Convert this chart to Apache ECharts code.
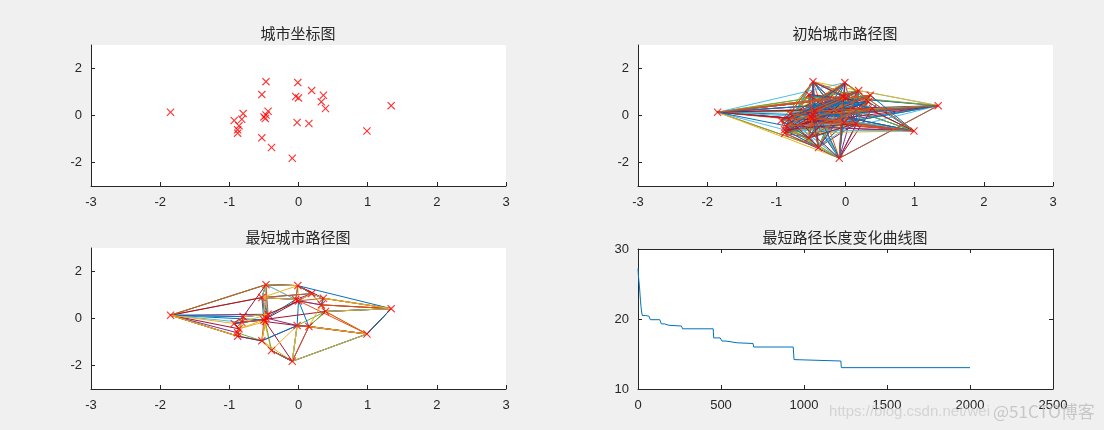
<!DOCTYPE html>
<html>
<head>
<meta charset="utf-8">
<script src="https://cdn.jsdelivr.net/npm/echarts@6/dist/echarts.min.js"></script>
<style>
html,body{margin:0;padding:0;background:#f0f0f0;}
#main{width:1104px;height:430px;}
</style>
</head>
<body>
<div id="main"></div>
<script>
// city coordinates
var cityX = [-1.85,-0.47,-0.01,-0.53,0.19,0.36,-0.04,0.00,0.33,0.39,1.34,0.99,0.15,-0.02,-0.09,-0.39,-0.53,-0.44,-0.47,-0.50,-0.48,-0.80,-0.82,-0.93,-0.86,-0.88,-0.88];
var cityY = [0.14,1.44,1.40,0.89,1.06,0.86,0.81,0.75,0.58,0.30,0.42,-0.66,-0.34,-0.30,-1.82,-1.36,-0.95,0.18,0.02,-0.06,-0.13,0.08,-0.16,-0.21,-0.44,-0.61,-0.75];

// initial population routes
var initRoutes = [
  [5,17,0,12,3,22,10,14,7,25,1,19,11,8,24,2,15,20,9,26,6,13,21,4,16,23,18],
  [10,3,26,8,0,15,4,21,13,1,24,9,18,6,11,23,2,16,7,20,14,5,25,12,19,22,17],
  [14,2,20,10,23,6,0,9,16,4,19,11,25,7,13,21,1,12,26,5,18,15,8,22,3,17,24],
  [1,11,22,4,14,18,10,25,2,12,0,8,20,5,26,16,9,3,13,24,7,15,21,6,17,23,19],
  [8,23,1,13,10,21,6,15,0,4,26,12,3,19,9,24,14,17,11,2,22,5,20,16,7,25,18],
  [20,4,10,16,1,9,25,0,6,11,3,14,22,7,18,2,13,26,5,23,12,17,8,24,15,21,19],
  [13,0,5,24,11,17,2,23,9,14,6,21,10,19,4,26,1,15,12,22,8,16,25,3,20,7,18],
  [26,10,7,0,18,12,1,25,4,15,8,21,11,3,16,9,22,2,14,19,5,24,13,6,23,17,20],
  [3,12,24,5,0,11,19,2,26,8,14,1,21,9,17,10,22,13,4,25,16,6,20,15,7,23,18],
  [9,21,2,17,14,0,7,11,26,4,22,13,10,1,16,5,23,8,19,12,25,3,15,6,24,20,18],
  [16,7,0,10,20,1,12,23,5,14,26,2,18,11,24,6,9,21,4,15,3,13,25,8,22,19,17],
  [22,9,1,26,13,4,0,17,10,6,15,24,3,11,19,8,2,25,14,7,21,5,12,16,18,23,20],
  [11,25,4,19,0,2,16,8,23,10,13,6,26,17,3,9,15,21,7,1,24,12,20,5,22,14,18],
  [6,19,10,24,2,14,21,9,0,13,5,26,18,1,11,20,4,23,7,16,12,25,8,3,15,22,17],
  [2,24,0,8,19,10,13,1,17,11,5,22,26,9,3,14,7,18,21,12,4,20,15,25,6,23,16],
  [25,5,0,6,14,10,18,3,12,21,1,8,16,20,11,2,22,4,13,24,7,17,9,26,15,19,23]
];

// final population routes
var bestRoutes = [
  [0,1,2,10,11,14,15,16,26,25,24,23,22,21,17,3,4,5,8,9,12,13,7,6,18,19,20],
  [0,3,1,2,4,5,10,9,8,7,6,11,12,13,14,15,16,20,19,18,17,21,22,23,24,25,26],
  [0,21,23,22,17,18,3,1,6,7,2,4,5,8,10,11,9,12,13,14,16,15,19,20,24,25,26],
  [0,17,3,1,2,5,4,6,7,8,9,10,11,12,14,15,16,13,18,19,20,22,21,23,24,26,25],
  [0,1,3,18,17,7,6,2,4,8,5,10,11,12,9,13,14,15,20,19,16,25,26,24,23,22,21],
  [0,22,24,25,26,16,15,14,13,12,11,10,9,8,5,4,2,6,7,1,3,17,18,19,20,23,21],
  [0,3,6,7,17,18,19,4,5,2,1,21,22,23,9,8,10,11,12,13,20,14,15,16,26,25,24],
  [0,21,17,18,1,2,4,5,8,9,10,11,14,15,16,13,12,7,6,3,19,20,22,23,24,25,26],
  [0,1,17,18,3,4,2,6,7,5,10,8,9,11,13,12,14,15,16,19,20,22,21,23,24,25,26],
  [0,23,21,17,18,19,1,2,3,6,7,4,5,10,9,8,12,11,14,13,15,16,20,24,22,25,26]
];

// shortest length per iteration (change points)
var iterX = [0,2,4,6,9,12,15,18,22,26,45,66,74,131,141,160,187,262,268,453,456,495,506,530,598,693,697,935,940,948,1222,1225,2000];
var bestLen = [27.2,26.4,25.8,25.3,24.6,23.6,22.6,21.8,21.0,20.5,20.4,20.2,19.9,19.8,19.3,19.1,19.0,18.85,18.6,18.5,17.3,17.1,16.85,16.6,16.5,16.4,16.0,15.8,14.2,14.0,13.95,13.05,13.05];

var titles = ['城市坐标图','初始城市路径图','最短城市路径图','最短路径长度变化曲线图'];
var mColors = ['#0072BD','#D95319','#EDB120','#7E2F8E','#77AC30','#4DBEEE','#A2142F'];

var grids = [
  {left:91, top:45, width:415, height:141},
  {left:638, top:45, width:415, height:141},
  {left:91, top:248, width:415, height:141},
  {left:638, top:249, width:415, height:140}
];

var axCol = '#262626';
var lblFont = {color:axCol, fontSize:13, fontFamily:'Liberation Sans, Arial, sans-serif',
  formatter:function(v){ return String(v); }};
var xMark = 'path://M0,1L1,0L5,4L9,0L10,1L6,5L10,9L9,10L5,6L1,10L0,9L4,5Z';

function cityPoints(){
  var arr=[];
  for(var i=0;i<cityX.length;i++) arr.push([cityX[i],cityY[i]]);
  return arr;
}
function routePoints(r){
  var arr=[];
  for(var i=0;i<r.length;i++) arr.push([cityX[r[i]],cityY[r[i]]]);
  arr.push([cityX[r[0]],cityY[r[0]]]);
  return arr;
}

var xAxes=[], yAxes=[], series=[];
for(var g=0;g<3;g++){
  xAxes.push({
    gridIndex:g, type:'value', min:-3, max:3, interval:1,
    axisLine:{onZero:false, lineStyle:{color:axCol, width:1}},
    axisTick:{inside:true, length:4, lineStyle:{color:axCol}},
    axisLabel:Object.assign({margin:10}, lblFont),
    splitLine:{show:false}
  });
  yAxes.push({
    gridIndex:g, type:'value', min:-3, max:3,
    axisLine:{show:true, onZero:false, lineStyle:{color:axCol, width:1}},
    axisTick:{inside:true, length:4, lineStyle:{color:axCol}, customValues:[-2,0,2]},
    axisLabel:Object.assign({margin:9, customValues:[-2,0,2]}, lblFont),
    splitLine:{show:false}
  });
}
// subplot 4 (boxed)
xAxes.push({
  gridIndex:3, type:'value', min:0, max:2500, interval:500,
  axisLine:{onZero:false, lineStyle:{color:axCol}},
  axisTick:{inside:true, length:4, lineStyle:{color:axCol}},
  axisLabel:Object.assign({margin:10}, lblFont),
  splitLine:{show:false}
});
xAxes.push({
  gridIndex:3, type:'value', min:0, max:2500, interval:500, position:'top',
  axisLine:{onZero:false, lineStyle:{color:axCol}},
  axisTick:{inside:true, length:4, lineStyle:{color:axCol}},
  axisLabel:{show:false}, splitLine:{show:false}
});
yAxes.push({
  gridIndex:3, type:'value', min:10, max:30, interval:10,
  axisLine:{show:true, onZero:false, lineStyle:{color:axCol}},
  axisTick:{inside:true, length:4, lineStyle:{color:axCol}},
  axisLabel:Object.assign({margin:9}, lblFont),
  splitLine:{show:false}
});
yAxes.push({
  gridIndex:3, type:'value', min:10, max:30, interval:10, position:'right',
  axisLine:{show:true, onZero:false, lineStyle:{color:axCol}},
  axisTick:{inside:true, length:4, lineStyle:{color:axCol}},
  axisLabel:{show:false}, splitLine:{show:false}
});

function routeSeries(routes, gi){
  for(var i=0;i<routes.length;i++){
    series.push({
      type:'line', xAxisIndex:gi, yAxisIndex:gi, data:routePoints(routes[i]),
      symbol:'none', silent:true,
      lineStyle:{color:mColors[i%mColors.length], width:1}
    });
  }
}
routeSeries(initRoutes,1);
routeSeries(bestRoutes,2);

for(var g=0;g<3;g++){
  series.push({
    type:'scatter', xAxisIndex:g, yAxisIndex:g, data:cityPoints(), z:5,
    symbol:xMark, symbolSize:8, silent:true,
    itemStyle:{color:'#ff0000'}
  });
}

var curve=[];
for(var i=0;i<iterX.length;i++) curve.push([iterX[i],bestLen[i]]);
series.push({
  type:'line', xAxisIndex:3, yAxisIndex:4, data:curve, step:'end',
  symbol:'none', lineStyle:{color:'#0072BD', width:1}
});

var graphics=[];
var tPos=[[298,33],[845,33],[298,237],[845,237]];
for(var i=0;i<4;i++){
  graphics.push({type:'text', x:tPos[i][0], y:tPos[i][1], z:10,
    style:{text:titles[i], align:'center', verticalAlign:'middle', fill:'#262626',
      font:'15px "Noto Sans CJK SC", sans-serif'}});
}
graphics.push({type:'text', x:990, y:412, z:20,
  style:{text:'https://blog.csdn.net/wei', align:'right', verticalAlign:'middle', fill:'rgba(200,200,200,0.7)',
    font:'15px "Liberation Sans", Arial, sans-serif'}});
graphics.push({type:'text', x:993, y:412, z:20,
  style:{text:'@51CTO博客', align:'left', verticalAlign:'middle', fill:'rgba(185,185,185,0.75)',
    font:'17px "Noto Sans CJK SC", sans-serif'}});

var myChart = echarts.init(document.getElementById('main'));
var option = {
  backgroundColor:'#f0f0f0',
  animation:false,
  grid:grids.map(function(gr){ return Object.assign({show:true, backgroundColor:'#ffffff', borderWidth:0}, gr); }),
  xAxis:xAxes,
  yAxis:yAxes,
  series:series,
  graphic:graphics
};
myChart.setOption(option);
</script>
</body>
</html>
